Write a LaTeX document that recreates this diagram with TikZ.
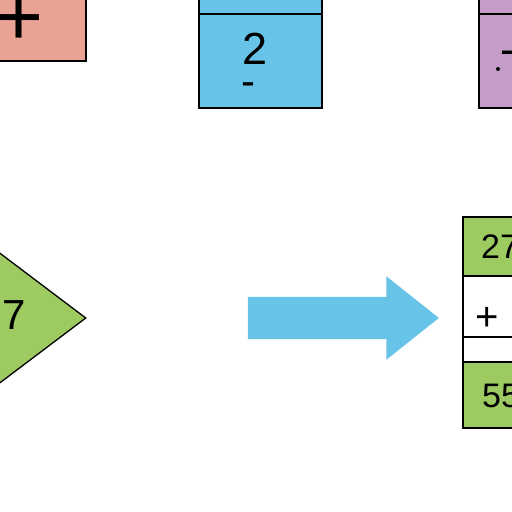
\documentclass[tikz,border=0pt]{standalone}
\usepackage{fontspec}
\setmainfont{Liberation Sans}
\usetikzlibrary{shapes.geometric,shapes.arrows,positioning}

\definecolor{salmon}{HTML}{E9A293}
\definecolor{skyblue}{HTML}{67C3E7}
\definecolor{lilac}{HTML}{C39CC8}
\definecolor{leaf}{HTML}{9DCB62}

\begin{document}
\begin{tikzpicture}[x=1pt,y=-1pt]

\tikzstyle{cell}=[draw,line width=1.3pt,inner sep=0pt,outer sep=0pt,minimum width=97pt]
\tikzstyle{big}=[font=\fontsize{34}{40}\selectfont,inner sep=0pt]

\useasboundingbox (0,0) rectangle (512,512);
\fill[white] (0,0) rectangle (512,512);

% TOP ROW
\node[cell,fill=salmon,minimum width=134pt,minimum height=84pt](plusbox) at (19,19){};
\node[big,font=\fontsize{84}{84}\selectfont](plussign) at (19,21){+};

\node[cell,fill=skyblue,minimum width=123pt,minimum height=94pt](twobox) at (260.5,61){};
\node[cell,fill=skyblue,minimum width=123pt,minimum height=30pt,above=0pt of twobox](twotop){};
\node[big,font=\fontsize{45}{45}\selectfont](two) at (255,49){2};
\node[big,font=\fontsize{42}{42}\selectfont](twodash) at (248,89){-};

\node[cell,fill=lilac,minimum width=90pt,minimum height=94pt](minusbox) at (524,61){};
\node[cell,fill=lilac,minimum width=90pt,minimum height=30pt,above=0pt of minusbox](minustop){};
\node[big,font=\fontsize{44}{44}\selectfont,anchor=west](minus) at (500,58){-};
\fill (498,69) circle (2pt);

% DIAMOND
\node[draw,line width=1.3pt,diamond,fill=leaf,minimum width=172pt,minimum height=130pt,inner sep=0pt](sevenbox) at (0,318){};
\node[big,font=\fontsize{42}{42}\selectfont](seven) at (14,315){7};

% ARROW
\node[single arrow,fill=skyblue,inner sep=0pt,inner ysep=21pt,minimum height=191pt,
  single arrow head extend=20.5pt,single arrow tip angle=77](goto) at (330,318){};

% RESULT STACK
\node[cell,fill=leaf,minimum height=59pt,anchor=north west](row27) at (463,217){};
\node[cell,fill=white,minimum height=61pt,below=0pt of row27](rowadd){};
\node[cell,fill=white,minimum height=25pt,below=0pt of rowadd](rowgap){};
\node[cell,fill=leaf,minimum height=66pt,below=0pt of rowgap](row55){};

\node[big,anchor=west](n27) at (481,247){27};
\node[big,font=\fontsize{40}{40}\selectfont](addsign) at (487,319){+};
\node[big,anchor=west](n55) at (482,396){55};

\end{tikzpicture}
\end{document}
